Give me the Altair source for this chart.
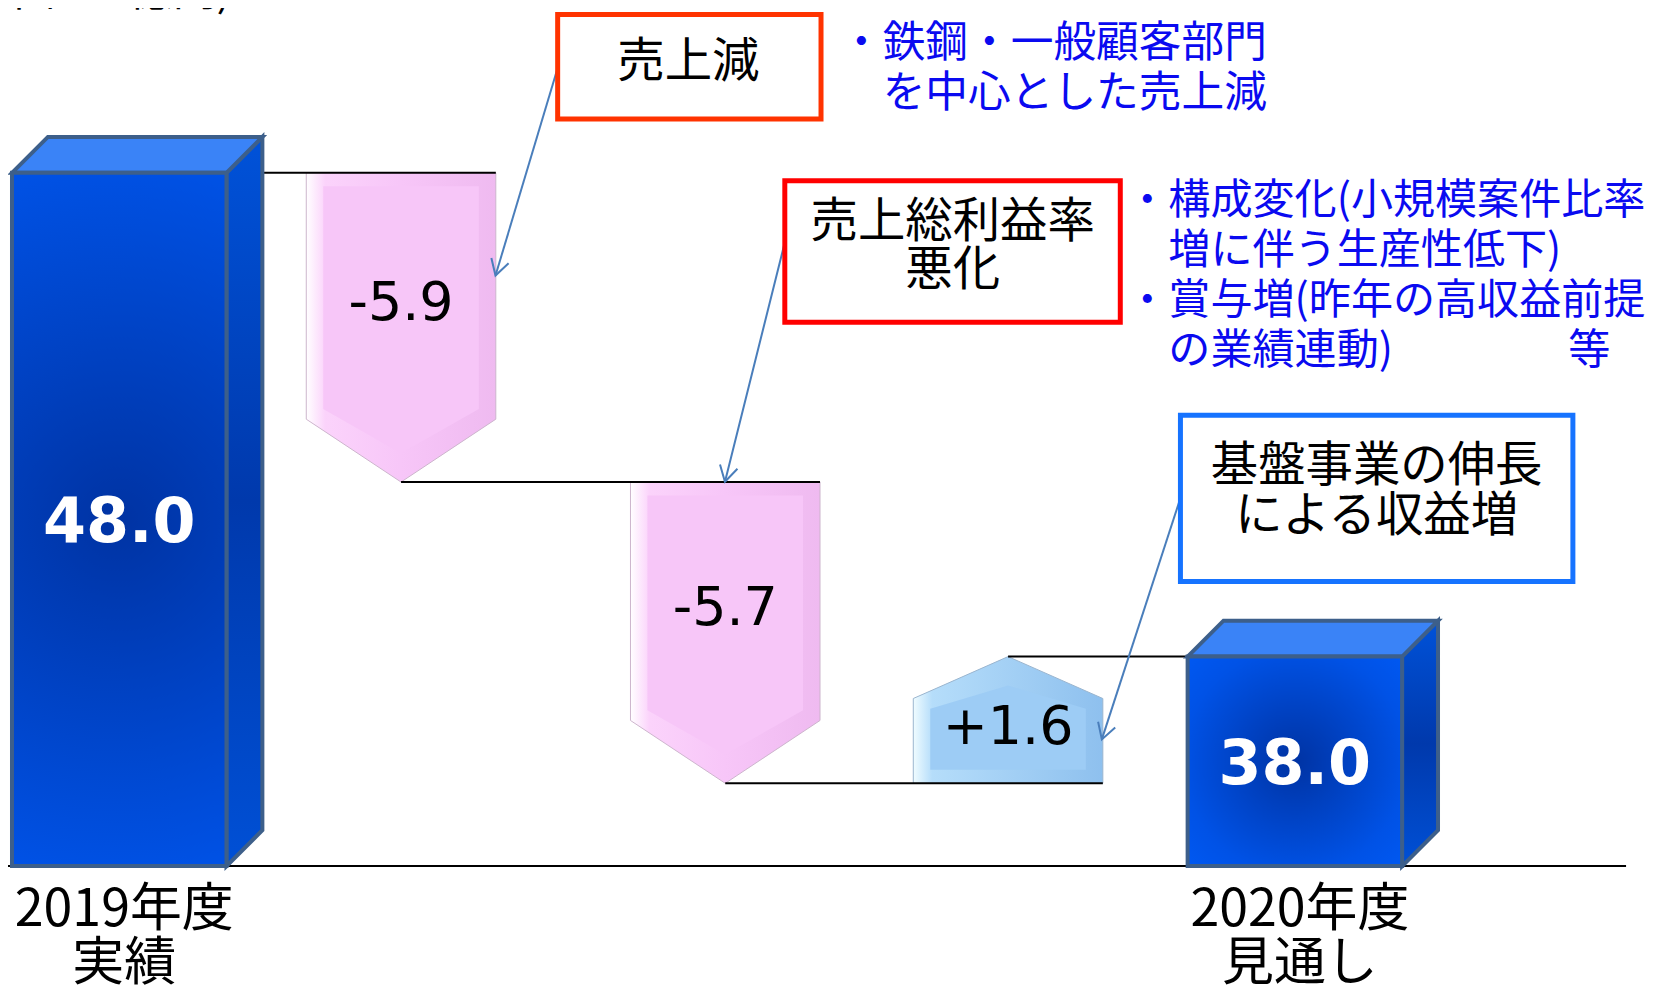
import math
import altair as alt
import numpy as np
import pandas as pd

# ---------------- data ----------------
categories = ["2019年度\n実績", "売上減", "売上総利益率悪化", "基盤事業の伸長", "2020年度\n見通し"]
kinds = ["total", "delta", "delta", "delta", "total"]
values = [48.0, -5.9, -5.7, 1.6, 38.0]
value_labels = ["48.0", "-5.9", "-5.7", "+1.6", "38.0"]
unit_text = "(単位：億円)"
callout_texts = ["売上減", "売上総利益率\n悪化", "基盤事業の伸長\nによる収益増"]
note_sales = "・鉄鋼・一般顧客部門\n　を中心とした売上減"
note_margin = "・構成変化(小規模案件比率\n　増に伴う生産性低下)\n・賞与増(昨年の高収益前提\n　の業績連動)"
note_margin_tail = "等"

# waterfall levels
starts, ends = [], []
run = 0.0
for k, v in zip(kinds, values):
    if k == "total":
        starts.append(0.0)
        ends.append(v)
        run = v
    else:
        starts.append(round(run, 1))
        run = round(run + v, 1)
        ends.append(run)

# ---------------- layout / picture scales ----------------
W, H = 1645, 982
JP = "Noto Sans CJK JP"
NUM = "DejaVu Sans"

# the original illustration is not drawn to scale: piecewise scales reproduce it
X_DOM = list(range(len(categories)))
X_RNG = [111.5, 394.0, 719.0, 1002.5, 1290.0]
Y_DOM = sorted(set([0.0] + starts + ends))
Y_RNG = [859.0, 776.0, 649.0, 474.0, 164.0]

XS = alt.Scale(domain=X_DOM, range=X_RNG, nice=False, zero=False)
YS = alt.Scale(domain=Y_DOM, range=Y_RNG, nice=False, zero=False)


def pw(v, dom, rng):
    d = np.asarray(dom, float)
    r = np.asarray(rng, float)
    if d[0] > d[-1]:
        d, r = d[::-1], r[::-1]
    i = int(np.clip(np.searchsorted(d, v, side="right") - 1, 0, len(d) - 2))
    return float(r[i] + (v - d[i]) * (r[i + 1] - r[i]) / (d[i + 1] - d[i]))


def fx(v):
    return pw(v, X_DOM, X_RNG)


def fy(v):
    return pw(v, Y_DOM, Y_RNG)


def ix(p):
    return pw(p, X_RNG, X_DOM)


def iy(p):
    return pw(p, Y_RNG, Y_DOM)


BAR_W, DEPTH = 215, 36
ARW_W, HEAD_DN, HEAD_UP = 190, 63, 42
BEVEL = 17

front_rows, top_rows, side_rows = [], [], []
outer_rows, inner_rows, conn_rows, lbl_rows, cat_rows = [], [], [], [], []
for i, (k, s, e) in enumerate(zip(kinds, starts, ends)):
    cx = fx(i)
    if k == "total":
        x0, x1 = cx - BAR_W / 2, cx + BAR_W / 2
        T, B = fy(e), fy(0)
        front_rows.append(dict(id=i, x=ix(x0), x2=ix(x1), y=e, y2=0.0))
        for px, up, lo in [(x0, T, T), (x0 + DEPTH, T - DEPTH, T),
                           (x1, T - DEPTH, T), (x1 + DEPTH, T - DEPTH, T - DEPTH)]:
            top_rows.append(dict(id=i, x=ix(px), y=iy(up), y2=iy(lo)))
        for px, up, lo in [(x1, T, B), (x1 + DEPTH, T - DEPTH, B - DEPTH)]:
            side_rows.append(dict(id=i, x=ix(px), y=iy(up), y2=iy(lo)))
        lbl_rows.append(dict(x=float(i), y=iy((T + B) / 2 + 4), text=value_labels[i], kind="total"))
        cat_rows.append(dict(x=float(i), y=iy(B + 19), text=categories[i]))
    else:
        xl, xr = cx - ARW_W / 2, cx + ARW_W / 2
        P0, P1 = fy(s), fy(e)
        down = P1 > P0
        sgn = 1 if down else -1
        head = HEAD_DN if down else HEAD_UP
        sh = P1 - sgn * head
        d = "down" if down else "up"
        for px, lo in [(xl, sh), (cx, P1), (xr, sh)]:
            outer_rows.append(dict(id=i, dir=d, x=ix(px), y=s, y2=iy(lo)))
        b = BEVEL
        for px, lo in [(xl + b, sh - sgn * b * 0.6), (cx, P1 - sgn * b * 1.7), (xr - b, sh - sgn * b * 0.6)]:
            inner_rows.append(dict(id=i, dir=d, x=ix(px), y=iy(P0 + sgn * b * 0.8), y2=iy(lo)))
        ly = P0 + 0.52 * (sh - P0) if down else P0 + 0.465 * (P1 - P0)
        lbl_rows.append(dict(x=float(i), y=iy(ly + 3.5), text=value_labels[i], kind="delta"))

for i in range(len(kinds) - 1):
    n = i + 1
    xend = fx(n) - BAR_W / 2 if kinds[n] == "total" else fx(n) + ARW_W / 2
    conn_rows.append(dict(x=float(i), x2=ix(xend), y=ends[i]))

front_df = pd.DataFrame(front_rows)
top_df = pd.DataFrame(top_rows)
side_df = pd.DataFrame(side_rows)
outer_df = pd.DataFrame(outer_rows)
inner_df = pd.DataFrame(inner_rows)
conn_df = pd.DataFrame(conn_rows)
lbl_df = pd.DataFrame(lbl_rows)
cat_df = pd.DataFrame(cat_rows)
base_df = pd.DataFrame({"y": [0.0]})
ONE = pd.DataFrame({"_": [0]})

# ---------------- styles ----------------
EDGE = "#3D5F8A"
FRONT_FILL = {"gradient": "radial", "x1": 0.5, "y1": 0.5, "r1": 0, "x2": 0.5, "y2": 0.5, "r2": 0.75,
              "stops": [{"offset": 0, "color": "#0033A3"}, {"offset": 0.7, "color": "#0052E6"},
                        {"offset": 1, "color": "#005AF5"}]}
SIDE_FILL = {"gradient": "linear", "x1": 0, "y1": 0, "x2": 0, "y2": 1,
             "stops": [{"offset": 0, "color": "#0052D9"}, {"offset": 0.5, "color": "#0039AC"},
                       {"offset": 1, "color": "#0050D6"}]}
TOP_FILL = "#3A83F7"
PINK_OUT = {"gradient": "linear", "x1": 0, "y1": 0, "x2": 1, "y2": 0,
            "stops": [{"offset": 0, "color": "#FFFFFF"}, {"offset": 0.1, "color": "#FBD3FB"},
                      {"offset": 0.5, "color": "#F7C6F8"}, {"offset": 1, "color": "#EFBAF0"}]}
PINK_IN = "#F7C6F8"
BLUE_OUT = {"gradient": "linear", "x1": 0, "y1": 0, "x2": 1, "y2": 0,
            "stops": [{"offset": 0, "color": "#F0FCFF"}, {"offset": 0.1, "color": "#B5DDFA"},
                      {"offset": 1, "color": "#8EC0EE"}]}
BLUE_IN = "#9DCCF5"
LEADER = "#4A7EBB"
NOTE_BLUE = "#0A0AF0"


def X(field):
    return alt.X(f"{field}:Q", scale=XS, axis=None)


def Y(field):
    return alt.Y(f"{field}:Q", scale=YS, axis=None)


layers = []
# baseline
layers.append(alt.Chart(base_df).mark_rule(color="black", strokeWidth=2).encode(
    y=Y("y"), x=alt.value(0), x2=alt.value(1622)))

# step arrows
for dname, out_fill, in_fill, edge in [("down", PINK_OUT, PINK_IN, "#CDB5CD"),
                                       ("up", BLUE_OUT, BLUE_IN, "#9AB5CF")]:
    layers.append(alt.Chart(outer_df[outer_df["dir"] == dname]).mark_area(
        fill=out_fill, stroke=edge, strokeWidth=1, opacity=1).encode(
        x=X("x"), y=Y("y"), y2="y2:Q", detail="id:N"))
    layers.append(alt.Chart(inner_df[inner_df["dir"] == dname]).mark_area(
        fill=in_fill, opacity=1).encode(
        x=X("x"), y=Y("y"), y2="y2:Q", detail="id:N"))

# connectors
layers.append(alt.Chart(conn_df).mark_rule(color="black", strokeWidth=2).encode(
    x=X("x"), x2="x2:Q", y=Y("y")))

# 3D bars
layers.append(alt.Chart(side_df).mark_area(fill=SIDE_FILL, stroke=EDGE, strokeWidth=4,
                                           strokeJoin="miter", opacity=1).encode(
    x=X("x"), y=Y("y"), y2="y2:Q", detail="id:N"))
layers.append(alt.Chart(top_df).mark_area(fill=TOP_FILL, stroke=EDGE, strokeWidth=4,
                                          strokeJoin="miter", opacity=1).encode(
    x=X("x"), y=Y("y"), y2="y2:Q", detail="id:N"))
layers.append(alt.Chart(front_df).mark_rect(fill=FRONT_FILL, stroke=EDGE, strokeWidth=4,
                                            strokeJoin="miter").encode(
    x=X("x"), x2="x2:Q", y=Y("y"), y2="y2:Q"))

# value labels
layers.append(alt.Chart(lbl_df[lbl_df["kind"] == "total"]).mark_text(
    font=NUM, fontSize=62, fontWeight="bold", color="white", align="center", baseline="middle").encode(
    x=X("x"), y=Y("y"), text="text:N"))
layers.append(alt.Chart(lbl_df[lbl_df["kind"] == "delta"]).mark_text(
    font=NUM, fontSize=54, color="black", align="center", baseline="middle").encode(
    x=X("x"), y=Y("y"), text="text:N"))

# category labels under the totals
layers.append(alt.Chart(cat_df).mark_text(
    font=JP, fontSize=52, lineHeight=54, lineBreak="\n", color="black", align="center",
    baseline="top", dx=5).encode(x=X("x"), y=Y("y"), text="text:N"))

# leader arrows (annotation layer, pixel positions)
leaders = [((551, 59), (488.7, 267)), ((778.7, 233.7), (718.7, 473.7)), ((1175.3, 490), (1096.5, 732))]
VSHAPE = "M -0.5 0.866 L 0 0 L 0.5 0.866"
for (sx, sy), (tx, ty) in leaders:
    layers.append(alt.Chart(ONE).mark_rule(color=LEADER, strokeWidth=2).encode(
        x=alt.value(sx), y=alt.value(sy), x2=alt.value(tx), y2=alt.value(ty)))
    ang = math.degrees(math.atan2(tx - sx, -(ty - sy))) % 360
    layers.append(alt.Chart(ONE).mark_point(shape=VSHAPE, filled=False, size=1300, strokeWidth=2,
                                            color=LEADER, opacity=1, angle=ang).encode(
        x=alt.value(tx), y=alt.value(ty)))

# callout boxes
boxes = [((551, 5.3, 815, 110), "#FF3300"), ((778.7, 172, 1115, 313.7), "#FF0000"),
         ((1175.3, 407, 1568.7, 573.7), "#1673FF")]
for (bx0, by0, bx1, by1), col in boxes:
    layers.append(alt.Chart(ONE).mark_rect(fill="white", stroke=col, strokeWidth=5).encode(
        x=alt.value(bx0), x2=alt.value(bx1), y=alt.value(by0), y2=alt.value(by1)))

# text blocks: (text, x, top, align, colour, font size, line height)
blocks = [
    (callout_texts[0], 682, 29.5, "center", "black", 47.5, 50),
    (callout_texts[1], 947, 190, "center", "black", 47.5, 48.5),
    (callout_texts[2], 1372, 435.3, "center", "black", 47.5, 50),
    (note_sales, 834, 14, "left", NOTE_BLUE, 42.8, 50),
    (note_margin, 1121, 172.4, "left", NOTE_BLUE, 42.2, 50),
]
for txt, tx, ty, al, col, fs, lh in blocks:
    for n, line in enumerate(txt.split("\n")):
        indent = fs if (al == "left" and line.startswith("　")) else 0
        layers.append(alt.Chart(ONE).mark_text(
            text=line.lstrip("　"), font=JP, fontSize=fs, align=al, baseline="top", color=col).encode(
            x=alt.value(tx + indent), y=alt.value(ty + n * lh)))
layers.append(alt.Chart(ONE).mark_text(
    text=note_margin_tail, font=JP, fontSize=42.2, align="left", baseline="top", color=NOTE_BLUE).encode(
    x=alt.value(1564), y=alt.value(172.4 + 3 * 50)))

# unit label (cut off at the top edge, as in the original)
layers.append(alt.Chart(ONE).mark_text(text=unit_text, font=JP, fontSize=44, align="right",
                                       baseline="alphabetic", color="black").encode(
    x=alt.value(224), y=alt.value(-3)))

chart = alt.layer(*layers).properties(
    width=W, height=H, autosize=alt.AutoSizeParams(type="none"), padding=0
).configure_view(stroke=None)

chart.save("out.html", embed_options={"renderer": "svg", "actions": False})
